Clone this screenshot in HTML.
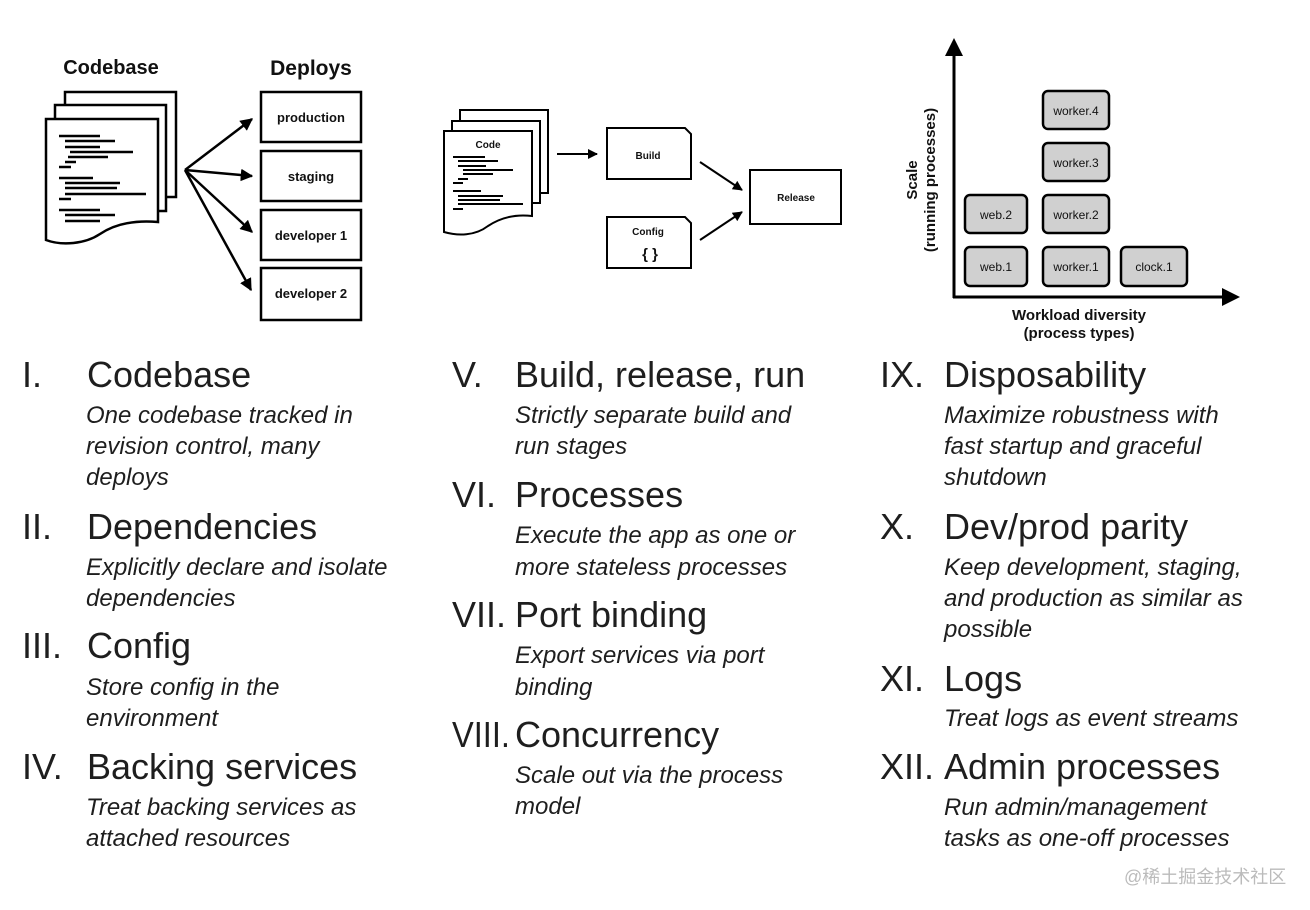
<!DOCTYPE html>
<html><head><meta charset="utf-8"><style>
html,body{margin:0;padding:0;background:#fff;}
svg{display:block;}
.t{font-family:"Liberation Sans",sans-serif;font-size:36px;fill:#1e1e1e;}
.s{font-family:"Liberation Sans",sans-serif;font-size:24px;font-style:italic;fill:#1e1e1e;}
.b{font-family:"Liberation Sans",sans-serif;font-weight:bold;fill:#111;}
</style></head><body>
<svg width="1310" height="910" viewBox="0 0 1310 910" xmlns="http://www.w3.org/2000/svg">
<defs>
<marker id="ah" viewBox="0 0 10 10" refX="9" refY="5" markerWidth="5" markerHeight="5" orient="auto"><path d="M0,0 L10,5 L0,10 Z" fill="#000"/></marker>
</defs>
<!-- Diagram 1 -->
<text class="b" x="111" y="74" font-size="20" text-anchor="middle">Codebase</text>
<text class="b" x="311" y="75" font-size="21" text-anchor="middle">Deploys</text>
<g fill="#fff" stroke="#000" stroke-width="2.5">
<rect x="65" y="92" width="111" height="105"/>
<rect x="55" y="105" width="111" height="106"/>
<path d="M46,119 H158 V222 C135,220 115,224 100,234 C85,244 62,246 46,240 Z"/>
</g>
<g stroke="#000" stroke-width="2.5">
<line x1="59" y1="136" x2="100" y2="136"/><line x1="65" y1="141" x2="115" y2="141"/>
<line x1="65" y1="147" x2="100" y2="147"/><line x1="70" y1="152" x2="133" y2="152"/>
<line x1="68" y1="157" x2="108" y2="157"/><line x1="65" y1="162" x2="76" y2="162"/>
<line x1="59" y1="167" x2="71" y2="167"/><line x1="59" y1="178" x2="93" y2="178"/>
<line x1="65" y1="183" x2="120" y2="183"/><line x1="65" y1="188" x2="117" y2="188"/>
<line x1="65" y1="194" x2="146" y2="194"/><line x1="59" y1="199" x2="71" y2="199"/>
<line x1="59" y1="210" x2="100" y2="210"/><line x1="65" y1="215" x2="115" y2="215"/>
<line x1="65" y1="221" x2="100" y2="221"/>
</g>
<g stroke="#000" stroke-width="2.5" fill="none" marker-end="url(#ah)">
<line x1="185" y1="170" x2="252" y2="119"/>
<line x1="185" y1="170" x2="252" y2="176"/>
<line x1="185" y1="170" x2="252" y2="232"/>
<line x1="185" y1="170" x2="251" y2="290"/>
</g>
<g fill="#fff" stroke="#000" stroke-width="2.5">
<rect x="261" y="92" width="100" height="50"/>
<rect x="261" y="151" width="100" height="50"/>
<rect x="261" y="210" width="100" height="50"/>
<rect x="261" y="268" width="100" height="52"/>
</g>
<g class="b" font-size="13" text-anchor="middle">
<text x="311" y="122">production</text><text x="311" y="181">staging</text>
<text x="311" y="240">developer 1</text><text x="311" y="298">developer 2</text>
</g>
<!-- Diagram 2 -->
<g fill="#fff" stroke="#000" stroke-width="2">
<rect x="460" y="110" width="88" height="83"/>
<rect x="452" y="121" width="88" height="82"/>
<path d="M444,131 H532 V216 C515,214 500,218 488,226 C475,236 458,236 444,232 Z"/>
</g>
<text class="b" x="488" y="148" font-size="10" text-anchor="middle">Code</text>
<g stroke="#000" stroke-width="2">
<line x1="453" y1="157" x2="485" y2="157"/><line x1="458" y1="161" x2="498" y2="161"/>
<line x1="458" y1="166" x2="486" y2="166"/><line x1="463" y1="170" x2="513" y2="170"/>
<line x1="463" y1="174" x2="493" y2="174"/><line x1="458" y1="179" x2="468" y2="179"/>
<line x1="453" y1="183" x2="463" y2="183"/><line x1="453" y1="191" x2="481" y2="191"/>
<line x1="458" y1="196" x2="503" y2="196"/><line x1="458" y1="200" x2="500" y2="200"/>
<line x1="458" y1="204" x2="523" y2="204"/><line x1="453" y1="209" x2="463" y2="209"/>
</g>
<g stroke="#000" stroke-width="2" fill="none" marker-end="url(#ah)">
<line x1="557" y1="154" x2="597" y2="154"/>
<line x1="700" y1="162" x2="742" y2="190"/>
<line x1="700" y1="240" x2="742" y2="212"/>
</g>
<g fill="#fff" stroke="#000" stroke-width="2">
<path d="M607,128 H685 L691,134 V179 H607 Z"/>
<path d="M607,217 H685 L691,223 V268 H607 Z"/>
<rect x="750" y="170" width="91" height="54"/>
</g>
<g class="b" font-size="10" text-anchor="middle">
<text x="648" y="159">Build</text><text x="648" y="235">Config</text>
<text x="796" y="201">Release</text>
</g>
<text class="b" x="650" y="259" font-size="15" text-anchor="middle">{ }</text>
<!-- Diagram 3 -->
<g stroke="#000" stroke-width="3" fill="none">
<line x1="954" y1="52" x2="954" y2="298"/>
<line x1="953" y1="297" x2="1226" y2="297"/>
</g>
<path d="M945,56 L954,38 L963,56 Z" fill="#000"/>
<path d="M1222,288 L1240,297 L1222,306 Z" fill="#000"/>
<g fill="#d0d0d0" stroke="#000" stroke-width="2.5">
<rect x="965" y="247" width="62" height="39" rx="5"/>
<rect x="965" y="195" width="62" height="38" rx="5"/>
<rect x="1043" y="247" width="66" height="39" rx="5"/>
<rect x="1043" y="195" width="66" height="38" rx="5"/>
<rect x="1043" y="143" width="66" height="38" rx="5"/>
<rect x="1043" y="91" width="66" height="38" rx="5"/>
<rect x="1121" y="247" width="66" height="39" rx="5"/>
</g>
<g font-family="Liberation Sans, sans-serif" font-size="12" fill="#111" text-anchor="middle">
<text x="996" y="271">web.1</text><text x="996" y="219">web.2</text>
<text x="1076" y="271">worker.1</text><text x="1076" y="219">worker.2</text>
<text x="1076" y="167">worker.3</text><text x="1076" y="115">worker.4</text>
<text x="1154" y="271">clock.1</text>
</g>
<text class="b" x="1079" y="320" font-size="15" text-anchor="middle">Workload diversity</text>
<text class="b" x="1079" y="338" font-size="15" text-anchor="middle">(process types)</text>
<g transform="translate(917,180) rotate(-90)"><text class="b" x="0" y="0" font-size="15" text-anchor="middle">Scale</text></g>
<g transform="translate(935,180) rotate(-90)"><text class="b" x="0" y="0" font-size="15" text-anchor="middle">(running processes)</text></g>
<!-- Column 1 -->
<text class="t" x="22" y="387">I.</text><text class="t" x="87" y="387">Codebase</text>
<text class="s" x="86" y="423">One codebase tracked in</text>
<text class="s" x="86" y="454">revision control, many</text>
<text class="s" x="86" y="485">deploys</text>
<text class="t" x="22" y="539">II.</text><text class="t" x="87" y="539">Dependencies</text>
<text class="s" x="86" y="575">Explicitly declare and isolate</text>
<text class="s" x="86" y="606">dependencies</text>
<text class="t" x="22" y="658">III.</text><text class="t" x="87" y="658">Config</text>
<text class="s" x="86" y="695">Store config in the</text>
<text class="s" x="86" y="726">environment</text>
<text class="t" x="22" y="779">IV.</text><text class="t" x="87" y="779">Backing services</text>
<text class="s" x="86" y="815">Treat backing services as</text>
<text class="s" x="86" y="846">attached resources</text>
<!-- Column 2 -->
<text class="t" x="452" y="387">V.</text><text class="t" x="515" y="387">Build, release, run</text>
<text class="s" x="515" y="423">Strictly separate build and</text>
<text class="s" x="515" y="454">run stages</text>
<text class="t" x="452" y="507">VI.</text><text class="t" x="515" y="507">Processes</text>
<text class="s" x="515" y="543">Execute the app as one or</text>
<text class="s" x="515" y="575">more stateless processes</text>
<text class="t" x="452" y="627">VII.</text><text class="t" x="515" y="627">Port binding</text>
<text class="s" x="515" y="663">Export services via port</text>
<text class="s" x="515" y="695">binding</text>
<text class="t" x="452" y="747" textLength="58" lengthAdjust="spacingAndGlyphs">VIII.</text><text class="t" x="515" y="747">Concurrency</text>
<text class="s" x="515" y="783">Scale out via the process</text>
<text class="s" x="515" y="814">model</text>
<!-- Column 3 -->
<text class="t" x="880" y="387">IX.</text><text class="t" x="944" y="387">Disposability</text>
<text class="s" x="944" y="423">Maximize robustness with</text>
<text class="s" x="944" y="454">fast startup and graceful</text>
<text class="s" x="944" y="485">shutdown</text>
<text class="t" x="880" y="539">X.</text><text class="t" x="944" y="539">Dev/prod parity</text>
<text class="s" x="944" y="575">Keep development, staging,</text>
<text class="s" x="944" y="606">and production as similar as</text>
<text class="s" x="944" y="637">possible</text>
<text class="t" x="880" y="691">XI.</text><text class="t" x="944" y="691">Logs</text>
<text class="s" x="944" y="726">Treat logs as event streams</text>
<text class="t" x="880" y="779">XII.</text><text class="t" x="944" y="779">Admin processes</text>
<text class="s" x="944" y="815">Run admin/management</text>
<text class="s" x="944" y="846">tasks as one-off processes</text>
<text x="1124" y="883" font-family="Liberation Sans, 'Noto Sans CJK SC', sans-serif" font-size="18" fill="#bbb">@稀土掘金技术社区</text>
</svg>
</body></html>
